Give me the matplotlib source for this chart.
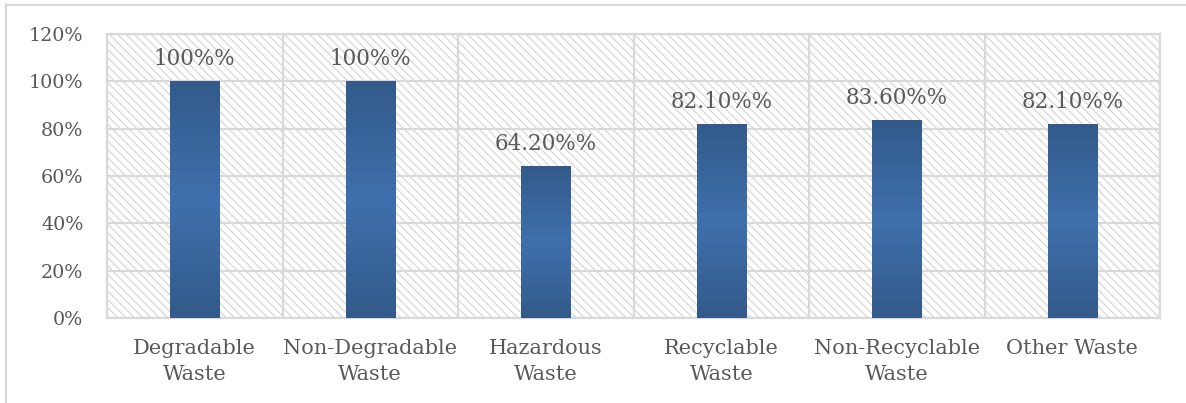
import matplotlib
matplotlib.use("Agg")
import matplotlib.pyplot as plt
import numpy as np
from matplotlib.colors import LinearSegmentedColormap
from matplotlib.patches import Rectangle
from matplotlib.lines import Line2D

categories = ["Degradable\nWaste", "Non-Degradable\nWaste", "Hazardous\nWaste",
              "Recyclable\nWaste", "Non-Recyclable\nWaste", "Other Waste"]
values = [100, 100, 64.2, 82.1, 83.6, 82.1]
value_labels = ["100%%", "100%%", "64.20%%", "82.10%%", "83.60%%", "82.10%%"]
yticks = [0, 20, 40, 60, 80, 100, 120]
ytick_labels = ["0%", "20%", "40%", "60%", "80%", "100%", "120%"]

plt.rcParams['font.family'] = ['DejaVu Serif']
plt.rcParams['hatch.linewidth'] = 0.8
plt.rcParams['hatch.color'] = '#d4d4d4'

text_color = '#595959'
grid_color = '#d9d9d9'

fig = plt.figure(figsize=(11.86, 4.03), dpi=100)
ax = fig.add_axes([107/1186, 1-318/403, (1160-107)/1186, (318-34)/403])

x = np.arange(len(categories))
ax.set_xlim(-0.5, len(categories)-0.5)
ax.set_ylim(0, 120)

# hatched background
bg = Rectangle((0, 0), 1, 1, transform=ax.transAxes, facecolor='white',
               edgecolor='#d4d4d4', hatch='\\\\\\\\', linewidth=0, zorder=0)
ax.add_patch(bg)

# grid
for yv in yticks:
    ax.axhline(yv, color=grid_color, lw=1.6, zorder=1)
for xv in np.arange(-0.5, len(categories), 1):
    ax.axvline(xv, color=grid_color, lw=1.6, zorder=1)

cmap = LinearSegmentedColormap.from_list('g', ['#335a8a', '#3f70ad', '#335a8a'])
grad = np.linspace(0, 1, 256).reshape(-1, 1)
bars = ax.bar(x, values, width=0.28, color='#3a67a0', zorder=2, linewidth=0)
for b in bars:
    bx, by = b.get_x(), b.get_y()
    w, h = b.get_width(), b.get_height()
    im = ax.imshow(grad, cmap=cmap, extent=[bx, bx+w, by, by+h], aspect='auto',
                   origin='lower', zorder=3)
    im.set_clip_path(b)

for xi, v, lab in zip(x, values, value_labels):
    ax.annotate(lab, (xi, v), xytext=(0, 8), textcoords='offset points',
                ha='center', va='bottom', fontsize=15.5, color=text_color, zorder=4)

ax.set_xticks(x)
ax.set_xticklabels(categories, fontsize=15, color=text_color, linespacing=1.45)
ax.set_yticks(yticks)
ax.set_yticklabels(ytick_labels, fontsize=13.8, color=text_color)
ax.tick_params(axis='both', length=0)
ax.tick_params(axis='x', pad=15)
ax.tick_params(axis='y', pad=17)
for s in ax.spines.values():
    s.set_color(grid_color)
    s.set_linewidth(1.6)
    s.set_zorder(1)

fig.add_artist(Line2D([5.5/1186, 5.5/1186], [0, 1-4/403], color='#d9d9d9', lw=1.5,
                      transform=fig.transFigure))
fig.add_artist(Line2D([5.5/1186, 1], [1-4.5/403, 1-4.5/403], color='#d9d9d9', lw=1.5,
                      transform=fig.transFigure))

fig.savefig('out.png', dpi=100)
